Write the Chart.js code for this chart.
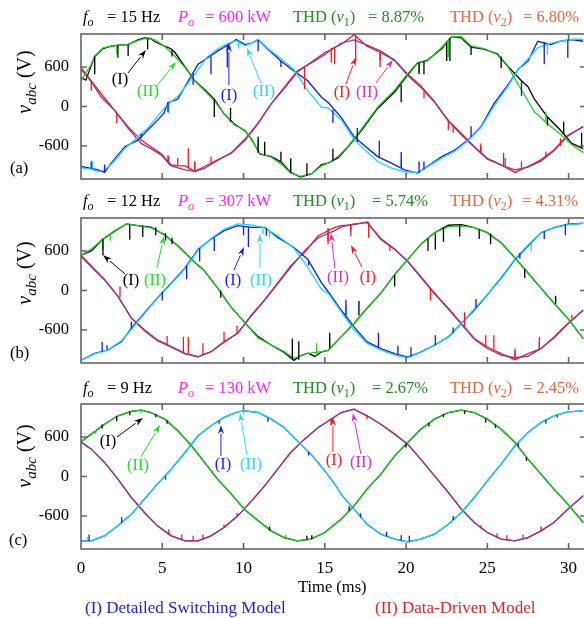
<!DOCTYPE html>
<html>
<head>
<meta charset="utf-8">
<script src="https://cdn.jsdelivr.net/npm/chart.js@4.4.1/dist/chart.umd.min.js"></script>
<style>
  body { margin: 0; width: 584px; height: 618px; overflow: hidden; background: #fff; position: relative;
         font-family: "Liberation Serif", "Times New Roman", serif; }
  canvas { position: absolute; left: 0; }
  .t { position: absolute; font-size: 16.5px; white-space: nowrap; line-height: 1; z-index: 2; }
  .t sub { font-size: 12px; vertical-align: -4px; line-height: 0; }
  .ylab { position: absolute; left: 24px; font-size: 20px; white-space: nowrap; line-height: 1;
          transform: translate(-50%, -50%) rotate(-90deg); z-index: 2; }
  .ylab sub { font-size: 15px; vertical-align: -5px; line-height: 0; }
</style>
</head>
<body>
<canvas id="pa" width="592" height="165" style="top:24px"></canvas>
<canvas id="pb" width="592" height="165" style="top:208px"></canvas>
<canvas id="pc" width="592" height="190" style="top:394px"></canvas>

<!-- panel titles -->
<div class="t" style="left:83px;top:9px"><i>f</i><sub><i>o</i></sub></div>
<div class="t" style="left:107px;top:9px">= 15 Hz</div>
<div class="t" style="left:178px;top:9px;color:#ff22ff"><i>P</i><sub><i>o</i></sub></div>
<div class="t" style="left:205px;top:9px;color:#ff22ff">= 600 kW</div>
<div class="t" style="left:293px;top:9px;color:#1e8c1e">THD (<i>v</i><sub>1</sub>)</div>
<div class="t" style="left:368px;top:9px;color:#1e8c1e">= 8.87%</div>
<div class="t" style="left:450px;top:9px;color:#e8643a">THD (<i>v</i><sub>2</sub>)</div>
<div class="t" style="left:523px;top:9px;color:#e8643a">= 6.80%</div>

<div class="t" style="left:83px;top:193px"><i>f</i><sub><i>o</i></sub></div>
<div class="t" style="left:107px;top:193px">= 12 Hz</div>
<div class="t" style="left:178px;top:193px;color:#ff22ff"><i>P</i><sub><i>o</i></sub></div>
<div class="t" style="left:205px;top:193px;color:#ff22ff">= 307 kW</div>
<div class="t" style="left:293px;top:193px;color:#1e8c1e">THD (<i>v</i><sub>1</sub>)</div>
<div class="t" style="left:372px;top:193px;color:#1e8c1e">= 5.74%</div>
<div class="t" style="left:450px;top:193px;color:#e8643a">THD (<i>v</i><sub>2</sub>)</div>
<div class="t" style="left:522px;top:193px;color:#e8643a">= 4.31%</div>

<div class="t" style="left:83px;top:380px"><i>f</i><sub><i>o</i></sub></div>
<div class="t" style="left:107px;top:380px">= 9 Hz</div>
<div class="t" style="left:178px;top:380px;color:#ff22ff"><i>P</i><sub><i>o</i></sub></div>
<div class="t" style="left:205px;top:380px;color:#ff22ff">= 130 kW</div>
<div class="t" style="left:293px;top:380px;color:#1e8c1e">THD (<i>v</i><sub>1</sub>)</div>
<div class="t" style="left:372px;top:380px;color:#1e8c1e">= 2.67%</div>
<div class="t" style="left:450px;top:380px;color:#e8643a">THD (<i>v</i><sub>2</sub>)</div>
<div class="t" style="left:523px;top:380px;color:#e8643a">= 2.45%</div>

<!-- y axis titles and panel letters -->
<div class="ylab" style="top:82px"><i>v</i><sub><i>abc</i></sub> (V)</div>
<div class="ylab" style="top:273px"><i>v</i><sub><i>abc</i></sub> (V)</div>
<div class="ylab" style="top:456px"><i>v</i><sub><i>abc</i></sub> (V)</div>
<div class="t" style="left:10px;top:160px">(a)</div>
<div class="t" style="left:10px;top:345px">(b)</div>
<div class="t" style="left:9px;top:532px">(c)</div>

<div class="t" style="left:298px;top:579px">Time (ms)</div>
<div class="t" style="left:85px;top:599px;color:#1a1ae6;font-size:17px">(I) Detailed Switching Model</div>
<div class="t" style="left:375px;top:599px;color:#e82020;font-size:17px">(II) Data-Driven Model</div>

<script>
// tick values
const xTicks = [0, 5, 10, 15, 20, 25, 30];
const yTicks = [-600, 0, 600];

// ---------- panel (a)  f = 15 Hz ----------
const aBlack = [[0,440],[0.3,400],[0.63,620],[0.84,760],[1.35,880],[1.86,915],[2.3,930],[2.9,940],[3.5,1010],[3.9,1040],[4.3,1030],[4.5,990],[5.1,920],[5.5,880],[5.75,830],[6.4,600],[7.0,390],[7.6,260],[8.2,110],[8.8,-110],[9.45,-270],[10.1,-370],[10.5,-500],[11.0,-720],[11.7,-760],[12.3,-840],[12.9,-1000],[13.5,-1070],[14.2,-1020],[14.8,-880],[15.2,-860],[15.8,-780],[16.4,-620],[17.2,-380],[18.25,-30],[19.3,220],[20.1,480],[20.7,660],[21.3,700],[22.2,880],[22.8,1060],[23.4,1040],[24.0,900],[24.8,870],[25.6,800],[26.3,600],[27.1,390],[27.5,300],[27.9,110],[28.7,-160],[29.5,-360],[30.2,-560],[30.9,-640]];
const aGreen = [[0,390],[0.63,640],[0.84,765],[1.35,890],[1.86,915],[2.9,940],[3.5,1000],[3.9,1030],[4.5,1020],[5.1,920],[5.75,770],[6.4,590],[7.0,390],[7.6,240],[8.2,90],[8.8,-110],[9.45,-285],[10.1,-360],[10.5,-510],[11.0,-710],[11.7,-770],[12.3,-870],[12.9,-1010],[13.5,-1060],[14.2,-1020],[14.8,-900],[15.2,-860],[15.8,-760],[16.4,-610],[17.2,-360],[18.25,-10],[19.3,250],[20.1,500],[20.7,665],[21.3,690],[22.2,900],[22.8,1065],[23.4,1060],[24.0,920],[24.8,880],[25.6,790],[26.3,590],[27.1,250],[27.9,-80],[28.7,-260],[29.5,-420],[30.2,-580],[30.9,-700]];
const aBlue = [[0,-910],[0.63,-940],[1.05,-960],[1.45,-1000],[1.86,-860],[2.7,-610],[3.5,-510],[4.1,-360],[4.7,-210],[5.1,-100],[5.35,60],[5.95,110],[6.6,390],[7.2,640],[7.8,740],[8.4,840],[9.0,930],[9.55,1015],[10.1,940],[10.5,960],[10.9,1015],[11.5,870],[12.3,690],[13.1,540],[13.95,390],[14.8,140],[15.2,60],[16.0,-160],[16.8,-460],[17.4,-585],[18.25,-760],[19.1,-860],[19.9,-960],[20.7,-1010],[21.3,-910],[22.2,-760],[23.0,-660],[23.8,-510],[24.6,-310],[25.4,40],[26.3,340],[26.9,565],[27.5,690],[28.1,990],[28.9,940],[29.5,990],[30.2,1015],[30.9,990]];
const aCyan = [[0,-930],[0.63,-950],[1.05,-990],[1.45,-960],[1.86,-880],[2.7,-640],[3.5,-460],[4.1,-330],[4.7,-150],[5.35,40],[5.95,150],[6.6,360],[7.2,560],[7.8,760],[8.4,870],[9.0,955],[9.55,1000],[10.1,920],[10.5,960],[10.9,1020],[11.5,880],[12.3,730],[13.1,560],[13.95,240],[14.8,-10],[15.2,-20],[16.0,-200],[16.8,-500],[17.4,-640],[18.25,-835],[19.1,-935],[19.9,-990],[20.7,-1000],[21.3,-920],[22.2,-780],[23.0,-680],[23.8,-520],[24.6,-320],[25.4,0],[26.3,320],[26.9,560],[27.5,720],[28.1,890],[28.9,960],[29.5,990],[30.2,1020],[30.9,1020]];
const aRed = [[0,590],[0.63,390],[1.25,190],[2.07,-60],[2.9,-310],[3.7,-510],[4.3,-610],[4.9,-710],[5.55,-885],[6.0,-900],[6.4,-900],[7.0,-985],[7.6,-910],[8.4,-810],[9.25,-710],[10.1,-510],[10.9,-260],[11.7,40],[12.5,290],[13.3,540],[14.2,665],[15.0,790],[15.55,890],[16.0,940],[16.8,1090],[17.6,915],[18.45,815],[19.3,700],[20.1,490],[20.9,315],[21.7,90],[22.6,-210],[23.4,-410],[24.2,-610],[25.0,-785],[25.85,-885],[26.7,-1000],[27.5,-910],[28.3,-810],[29.1,-660],[29.95,-435],[30.9,-310]];
const aPurple = [[0,560],[0.63,380],[1.25,140],[2.07,-60],[2.9,-330],[3.7,-560],[4.3,-640],[4.9,-730],[5.55,-900],[6.4,-960],[7.0,-985],[7.6,-940],[8.4,-820],[9.25,-700],[10.1,-490],[10.9,-250],[11.7,40],[12.5,270],[13.3,520],[14.2,680],[15.0,820],[15.55,880],[16.0,960],[16.8,1010],[17.6,930],[18.45,840],[19.3,700],[20.1,470],[20.9,290],[21.7,80],[22.6,-220],[23.4,-430],[24.2,-620],[25.0,-800],[25.85,-890],[26.7,-960],[27.5,-920],[28.3,-830],[29.1,-670],[29.95,-450],[30.9,-300]];
// switching spikes: [t, from, to]
const aBlackSp = [[0.84,760,490],[2.27,930,740],[2.9,940,765],[4.1,1040,865],[5.6,870,760],[8.2,110,-160],[9.2,-230,-20],[10.9,-700,-460],[11.3,-740,-535],[12.3,-840,-685],[12.9,-1000,-785],[13.9,-1050,-860],[15.5,-820,-640],[19.7,330,70],[20.8,670,490],[21.1,690,490],[22.5,960,690],[22.7,1040,690],[24.0,910,780],[25.85,760,580],[28.7,-160,-290],[29.7,-420,-230],[30.8,-630,-400]];
const aGreenSp = [[0.84,765,520],[2.2,925,800],[10.9,-700,-500],[12.9,-1000,-800],[20.8,670,520],[22.6,1000,750],[28.6,-230,-80]];
const aBlueSp = [[0.63,-940,-835],[1.45,-990,-880],[3.7,-480,-410],[5.35,60,-85],[6.9,500,330],[8.0,760,490],[9.0,930,590],[10.9,1010,840],[12.3,690,600],[15.5,-50,-250],[17.0,-540,-325],[18.35,-770,-515],[19.7,-940,-690],[20.8,-1010,-835],[21.1,-960,-835],[24.0,-460,-300],[27.1,400,160],[28.5,980,640],[29.95,1010,740]];
const aCyanSp = [[0.7,-940,-820],[5.4,50,-100],[9.7,1000,880],[19.7,-960,-800],[28.7,950,780]];
const aRedSp = [[0.63,390,240],[2.2,-100,-250],[5.35,-860,-735],[5.95,-900,-780],[6.6,-930,-635],[7.0,-980,-830],[8.0,-860,-760],[13.75,600,265],[15.4,890,665],[15.6,900,640],[16.9,1080,690],[18.4,830,600],[21.1,220,120],[22.6,-210,-360],[22.9,-280,-400],[24.6,-700,-560],[26.0,-900,-700],[27.1,-930,-835],[28.6,-760,-685],[29.5,-600,-480]];
const aPurpleSp = [[5.4,-880,-760],[7.0,-980,-860],[18.4,830,700],[24.6,-700,-600],[26.1,-900,-780]];

// ---------- panel (b)  f = 12 Hz ----------
const bBlack = [[0,535],[0.63,600],[1.35,780],[2.07,900],[2.8,1010],[3.5,985],[4.3,960],[5.1,850],[5.96,680],[6.8,474],[7.6,296],[8.4,41],[9.2,-240],[10.1,-495],[10.9,-700],[11.7,-826],[12.5,-940],[13.1,-1060],[13.5,-990],[13.95,-950],[14.4,-1000],[14.8,-930],[15.2,-908],[16.0,-704],[16.8,-500],[17.6,-270],[18.45,-41],[19.3,240],[20.1,469],[20.9,699],[21.75,877],[22.6,990],[23.4,1000],[24.2,954],[25.0,877],[25.85,724],[26.7,495],[27.5,265],[28.3,36],[29.1,-194],[29.95,-423],[30.9,-729]];
const bGreen = [[0,535],[0.63,627],[1.35,780],[2.07,908],[2.8,1010],[3.5,985],[4.3,950],[5.1,857],[5.96,678],[6.8,474],[7.6,296],[8.4,41],[9.2,-240],[10.1,-495],[10.9,-720],[11.7,-826],[12.5,-928],[13.1,-1030],[13.95,-954],[14.8,-928],[15.2,-908],[16.0,-704],[16.8,-500],[17.6,-270],[18.45,-41],[19.3,240],[20.1,469],[20.9,699],[21.75,877],[22.6,969],[23.4,979],[24.2,954],[25.0,877],[25.85,724],[26.7,495],[27.5,265],[28.3,36],[29.1,-194],[29.95,-423],[30.9,-729]];
const bBlue = [[0,-1056],[0.84,-954],[1.66,-903],[2.5,-775],[3.1,-571],[3.9,-342],[4.7,-112],[5.55,112],[6.4,342],[7.2,622],[8.0,780],[8.8,908],[9.65,985],[10.5,959],[11.3,959],[12.1,806],[13.1,653],[13.95,474],[14.8,117],[15.2,-15],[16.0,-296],[16.8,-551],[17.6,-780],[18.45,-882],[19.3,-959],[20.1,-1010],[20.9,-933],[21.75,-831],[22.6,-704],[23.4,-500],[24.2,-296],[25.0,-66],[25.85,189],[26.7,469],[27.5,673],[28.3,877],[29.1,954],[29.95,1005],[30.9,1020]];
const bCyan = [[0,-1056],[0.84,-960],[1.66,-900],[2.5,-760],[3.1,-590],[3.9,-350],[4.7,-120],[5.55,100],[6.4,330],[7.2,610],[8.0,790],[8.8,930],[9.65,1010],[10.5,995],[11.3,950],[12.1,830],[13.1,640],[13.95,350],[14.8,15],[15.2,-40],[16.0,-320],[16.8,-600],[17.6,-800],[18.45,-900],[19.3,-980],[20.1,-1020],[20.9,-940],[21.75,-830],[22.6,-700],[23.4,-500],[24.2,-280],[25.0,-60],[25.85,200],[26.7,480],[27.5,690],[28.3,880],[29.1,950],[29.95,1000],[30.9,1020]];
const bRed = [[0,535],[0.63,372],[1.45,168],[2.27,-87],[3.1,-418],[3.9,-597],[4.7,-750],[5.55,-852],[6.4,-954],[7.2,-1005],[8.0,-928],[8.8,-775],[9.65,-648],[10.5,-367],[11.3,-138],[12.1,117],[12.9,372],[13.75,576],[14.6,831],[15.55,950],[16.0,985],[16.8,1000],[17.6,1040],[18.45,775],[19.3,622],[20.1,444],[20.9,214],[21.75,-41],[22.6,-270],[23.4,-500],[24.2,-729],[25.0,-857],[25.85,-959],[26.7,-1050],[27.5,-959],[28.3,-882],[29.1,-704],[29.95,-500],[30.9,-296]];
const bPurple = [[0,520],[0.63,360],[1.45,160],[2.27,-90],[3.1,-420],[3.9,-610],[4.7,-760],[5.55,-860],[6.4,-960],[7.2,-1005],[8.0,-930],[8.8,-790],[9.65,-640],[10.5,-380],[11.3,-150],[12.1,100],[12.9,350],[13.75,600],[14.6,800],[15.55,900],[16.0,960],[16.8,1010],[17.6,1030],[18.45,790],[19.3,630],[20.1,440],[20.9,200],[21.75,-50],[22.6,-280],[23.4,-510],[24.2,-740],[25.0,-880],[25.85,-980],[26.7,-1020],[27.5,-1000],[28.3,-880],[29.1,-720],[29.95,-510],[30.9,-300]];
const bBlackSp = [[1.35,780,540],[3.0,1000,770],[3.8,980,810],[4.6,960,840],[5.2,870,760],[5.6,800,700],[8.6,0,-110],[13.0,-1030,-730],[13.4,-1050,-770],[15.3,-880,-640],[17.1,-380,-160],[19.3,240,60],[21.35,790,600],[21.8,870,620],[22.3,960,740],[23.3,990,820],[24.5,930,780],[25.2,860,700],[27.3,330,190],[29.2,-200,-80]];
const bGreenSp = [[1.35,780,620],[1.8,860,760],[14.5,-990,-800],[15.3,-880,-720],[25.2,860,760],[29.2,-200,-120]];
const bBlueSp = [[1.3,-930,-780],[1.6,-900,-830],[3.1,-580,-470],[5.0,-20,-150],[6.5,370,170],[7.3,640,440],[8.2,800,600],[10.0,970,840],[10.3,960,660],[11.4,950,830],[14.0,460,380],[16.3,-380,-140],[18.3,-870,-640],[19.5,-960,-840],[20.3,-1000,-860],[21.8,-830,-680],[22.9,-650,-560],[24.3,-260,-130],[27.0,570,480],[28.5,900,780],[29.8,990,840]];
const bCyanSp = [[3.1,-590,-500],[11.2,960,850],[11.6,900,800],[16.3,-380,-220],[27.7,710,590]];
const bRedSp = [[2.4,-100,60],[5.3,-820,-690],[6.3,-950,-700],[6.6,-960,-700],[7.5,-980,-800],[8.8,-770,-630],[9.6,-650,-540],[15.2,950,700],[16.6,1000,900],[17.7,1040,800],[19.0,680,600],[21.5,40,-150],[23.6,-540,-330],[24.9,-850,-680],[25.4,-900,-680],[26.7,-1050,-880],[28.2,-900,-700],[30.2,-430,-370]];
const bPurpleSp = [[15.2,940,750],[16.6,1000,820],[26.7,-1030,-920],[28.2,-890,-780]];

// ---------- panel (c)  f = 9 Hz ----------
const cPhaseA = [[0,526],[0.63,643],[1.45,794],[2.27,921],[3.1,987],[3.7,1007],[4.3,971],[5.15,870],[5.96,693],[6.8,466],[7.6,213],[8.4,-40],[9.25,-268],[10.05,-496],[10.9,-673],[11.7,-825],[12.5,-926],[13.3,-977],[14.15,-951],[15.0,-850],[16.0,-648],[16.8,-445],[17.6,-192],[18.45,35],[19.3,314],[20.1,516],[20.9,718],[21.75,870],[22.6,971],[23.4,1007],[24.2,971],[25.0,870],[25.85,718],[26.7,516],[27.5,263],[28.3,35],[29.1,-192],[29.95,-420],[30.9,-698]];
const cPhaseB = [[0,-977],[0.63,-977],[1.45,-900],[2.27,-749],[3.1,-572],[3.9,-344],[4.7,-116],[5.55,111],[6.4,364],[7.2,617],[8.0,769],[8.8,896],[9.65,982],[10.05,997],[10.9,971],[11.7,870],[12.5,744],[13.3,541],[14.15,339],[15.0,86],[15.55,-91],[16.0,-268],[16.8,-496],[17.6,-724],[18.45,-875],[19.3,-951],[20.1,-992],[20.9,-951],[21.75,-875],[22.6,-724],[23.4,-546],[24.2,-319],[25.0,-66],[25.85,187],[26.7,466],[27.5,668],[28.3,820],[29.1,921],[29.95,982],[30.9,997]];
const cPhaseC = [[0,526],[0.63,415],[1.45,213],[2.27,-40],[3.1,-319],[3.9,-546],[4.7,-749],[5.55,-900],[6.4,-977],[7.2,-977],[8.0,-900],[8.8,-774],[9.65,-597],[10.5,-369],[11.3,-142],[12.1,111],[12.9,364],[13.75,567],[14.6,744],[15.55,896],[16.0,971],[16.8,1022],[17.6,921],[18.45,794],[19.3,643],[20.1,491],[20.9,263],[21.75,10],[22.6,-243],[23.4,-496],[24.2,-698],[25.0,-850],[25.85,-951],[26.7,-977],[27.5,-926],[28.3,-825],[29.1,-698],[29.95,-496],[30.9,-293]];
const cBlackSp = [[1.3,790,730],[2.2,915,840],[3.0,985,930],[4.6,950,900],[5.3,850,800],[11.6,-820,-760],[13.9,-960,-900],[14.2,-950,-890],[16.5,-520,-450],[20.0,500,440],[21.4,810,760],[22.3,950,900],[23.6,1000,950],[24.9,880,820],[25.5,790,740],[27.4,290,240]];
const cGreenSp = [[0.9,700,650],[3.7,1007,960],[12.6,-930,-880]];
const cBlueSp = [[0.5,-980,-880],[2.5,-700,-620],[5.2,10,-50],[8.5,850,800],[11.5,890,830],[14.0,370,320],[17.2,-620,-560],[18.8,-910,-840],[19.7,-975,-890],[20.2,-990,-900],[22.9,-660,-600],[26.9,510,450],[28.6,860,800],[29.3,930,890]];
const cCyanSp = [[0.4,-980,-920],[10.0,997,950]];
const cRedSp = [[5.4,-880,-800],[6.2,-960,-880],[6.9,-980,-900],[7.5,-960,-880],[8.8,-780,-730],[9.6,-600,-550],[15.4,880,780],[17.6,930,870],[24.6,-790,-740],[25.6,-930,-860],[26.2,-960,-890],[27.2,-930,-880],[28.3,-820,-760]];
const cPurpleSp = [[15.4,880,800]];

// arrow notes: [text, colour, text t, text v, arrow t0, v0, arrow t1, v1]
const notesA = [
  ["(I)", "#000000", 2.40, 402, 2.89, 508, 4.00, 857],
  ["(II)", "#22dd22", 4.12, 220, 4.61, 296, 5.84, 675],
  ["(I)", "#1a1aff", 9.10, 159, 9.10, 326, 9.10, 963],
  ["(II)", "#22ddee", 11.26, 220, 11.07, 356, 10.21, 887],
  ["(I)", "#ff1a1a", 16.05, 205, 16.30, 341, 16.92, 751],
  ["(II)", "#cc33cc", 17.59, 205, 18.15, 356, 19.19, 705]
];
const notesB = [
  ["(I)", "#000000", 3.08, 144, 2.71, 250, 1.35, 538],
  ["(II)", "#22dd22", 4.55, 144, 4.67, 341, 5.11, 827],
  ["(I)", "#1a1aff", 9.35, 144, 9.41, 311, 10.03, 660],
  ["(II)", "#22ddee", 11.07, 144, 11.01, 341, 11.01, 857],
  ["(II)", "#cc33cc", 15.81, 190, 15.62, 341, 15.38, 872],
  ["(I)", "#ff1a1a", 17.65, 190, 17.28, 356, 16.61, 690]
];
const notesC = [
  ["(I)", "#000000", 1.66, 523, 2.21, 599, 3.81, 888],
  ["(II)", "#22dd22", 3.51, 159, 3.69, 296, 4.86, 781],
  ["(I)", "#1a1aff", 8.73, 174, 8.61, 311, 8.61, 781],
  ["(II)", "#22ddee", 10.46, 174, 10.21, 326, 9.78, 963],
  ["(I)", "#ff1a1a", 15.56, 235, 15.50, 372, 15.50, 903],
  ["(II)", "#cc33cc", 17.22, 205, 17.22, 341, 16.73, 963]
];

const COL = {
  black: "#000000", green: "#1fd01f", blue: "#1414f0",
  cyan: "#14dcf8", red: "#ff1414", purple: "#7d3f9c"
};

function toPoints(arr) {
  return arr.map(p => ({ x: p[0], y: p[1] }));
}

function toSpikes(arr) {
  const out = [];
  arr.forEach(s => {
    out.push({ x: s[0], y: s[1] }, { x: s[0], y: s[2] }, { x: s[0], y: null });
  });
  return out;
}

function lineSet(data, color, order) {
  return { data: data, borderColor: color, borderWidth: 1.3, pointRadius: 0,
           tension: 0, fill: false, spanGaps: false, order: order };
}

const framePlugin = {
  id: "frame",
  afterDatasetsDraw(chart, args, opts) {
    const ctx = chart.ctx;
    const a = chart.chartArea;
    const xs = chart.scales.x, ys = chart.scales.y;
    ctx.save();
    ctx.strokeStyle = "#666";
    ctx.lineWidth = 1.6;
    ctx.strokeRect(a.left, a.top, a.right - a.left, a.bottom - a.top);
    ctx.beginPath();
    xTicks.forEach(v => {
      if (v === 0) return;
      const px = xs.getPixelForValue(v);
      ctx.moveTo(px, a.bottom); ctx.lineTo(px, a.bottom - 6);
      ctx.moveTo(px, a.top); ctx.lineTo(px, a.top + 6);
    });
    yTicks.forEach(v => {
      const py = ys.getPixelForValue(v);
      ctx.moveTo(a.left, py); ctx.lineTo(a.left + 6, py);
      ctx.moveTo(a.right, py); ctx.lineTo(a.right - 6, py);
    });
    ctx.stroke();

    // arrows and (I)/(II) labels
    (opts.notes || []).forEach(n => {
      const [txt, col, tt, tv, t0, v0, t1, v1] = n;
      const x0 = xs.getPixelForValue(t0), y0 = ys.getPixelForValue(v0);
      const x1 = xs.getPixelForValue(t1), y1 = ys.getPixelForValue(v1);
      ctx.strokeStyle = col;
      ctx.fillStyle = col;
      ctx.lineWidth = 1;
      const ang = Math.atan2(y1 - y0, x1 - x0);
      const hl = 9, hw = 3;
      ctx.beginPath();
      ctx.moveTo(x0, y0);
      ctx.lineTo(x1 - hl * Math.cos(ang), y1 - hl * Math.sin(ang));
      ctx.stroke();
      ctx.beginPath();
      ctx.moveTo(x1, y1);
      ctx.lineTo(x1 - hl * Math.cos(ang) + hw * Math.sin(ang), y1 - hl * Math.sin(ang) - hw * Math.cos(ang));
      ctx.lineTo(x1 - hl * 0.7 * Math.cos(ang), y1 - hl * 0.7 * Math.sin(ang));
      ctx.lineTo(x1 - hl * Math.cos(ang) - hw * Math.sin(ang), y1 - hl * Math.sin(ang) + hw * Math.cos(ang));
      ctx.closePath();
      ctx.fill();
      ctx.font = '16.5px "Liberation Serif"';
      ctx.textAlign = "center";
      ctx.textBaseline = "middle";
      ctx.fillText(txt, xs.getPixelForValue(tt), ys.getPixelForValue(tv));
    });
    ctx.restore();
  }
};

function makePanel(id, s, notes, showX) {
  const datasets = [
    lineSet(toSpikes(s.kSp), COL.black, 1),
    lineSet(toSpikes(s.bSp), COL.blue, 1),
    lineSet(toSpikes(s.rSp), COL.red, 1),
    lineSet(toSpikes(s.gSp), COL.green, 1),
    lineSet(toSpikes(s.cSp), COL.cyan, 1),
    lineSet(toSpikes(s.pSp), COL.purple, 1),
    lineSet(toPoints(s.g), COL.green, 2),
    lineSet(toPoints(s.c), COL.cyan, 2),
    lineSet(toPoints(s.p), COL.purple, 2),
    lineSet(toPoints(s.k), COL.black, 3),
    lineSet(toPoints(s.b), COL.blue, 3),
    lineSet(toPoints(s.r), COL.red, 3)
  ];
  return new Chart(document.getElementById(id), {
    type: "line",
    data: { datasets: datasets },
    options: {
      responsive: false,
      animation: false,
      events: [],
      devicePixelRatio: 1,
      layout: { padding: { top: 10, right: 6, bottom: showX ? 5 : 10, left: 0 } },
      plugins: { legend: { display: false }, tooltip: { enabled: false }, frame: { notes: notes } },
      scales: {
        x: {
          type: "linear", min: 0, max: 31.07,
          display: showX,
          grid: { display: false, drawTicks: false },
          border: { display: false },
          ticks: { color: "#000", padding: 9, font: { family: "Liberation Serif", size: 17 } },
          afterBuildTicks(scale) { scale.ticks = xTicks.map(v => ({ value: v })); },
          afterFit(scale) {
            scale.height = showX ? 30 : 0;
            scale.paddingLeft = 0; scale.paddingRight = 0;
          }
        },
        y: {
          type: "linear", min: -1100, max: 1100,
          grid: { display: false, drawTicks: false },
          border: { display: false },
          ticks: { color: "#000", padding: 12, font: { family: "Liberation Serif", size: 16.5 } },
          afterBuildTicks(scale) { scale.ticks = yTicks.map(v => ({ value: v })); },
          afterFit(scale) {
            scale.width = 81;
            scale.paddingTop = 0; scale.paddingBottom = 0;
          }
        }
      }
    },
    plugins: [framePlugin]
  });
}

makePanel("pa", { k: aBlack, g: aGreen, b: aBlue, c: aCyan, r: aRed, p: aPurple,
  kSp: aBlackSp, gSp: aGreenSp, bSp: aBlueSp, cSp: aCyanSp, rSp: aRedSp, pSp: aPurpleSp }, notesA, false);
makePanel("pb", { k: bBlack, g: bGreen, b: bBlue, c: bCyan, r: bRed, p: bPurple,
  kSp: bBlackSp, gSp: bGreenSp, bSp: bBlueSp, cSp: bCyanSp, rSp: bRedSp, pSp: bPurpleSp }, notesB, false);
makePanel("pc", { k: cPhaseA, g: cPhaseA, b: cPhaseB, c: cPhaseB, r: cPhaseC, p: cPhaseC,
  kSp: cBlackSp, gSp: cGreenSp, bSp: cBlueSp, cSp: cCyanSp, rSp: cRedSp, pSp: cPurpleSp }, notesC, true);
</script>
</body>
</html>
